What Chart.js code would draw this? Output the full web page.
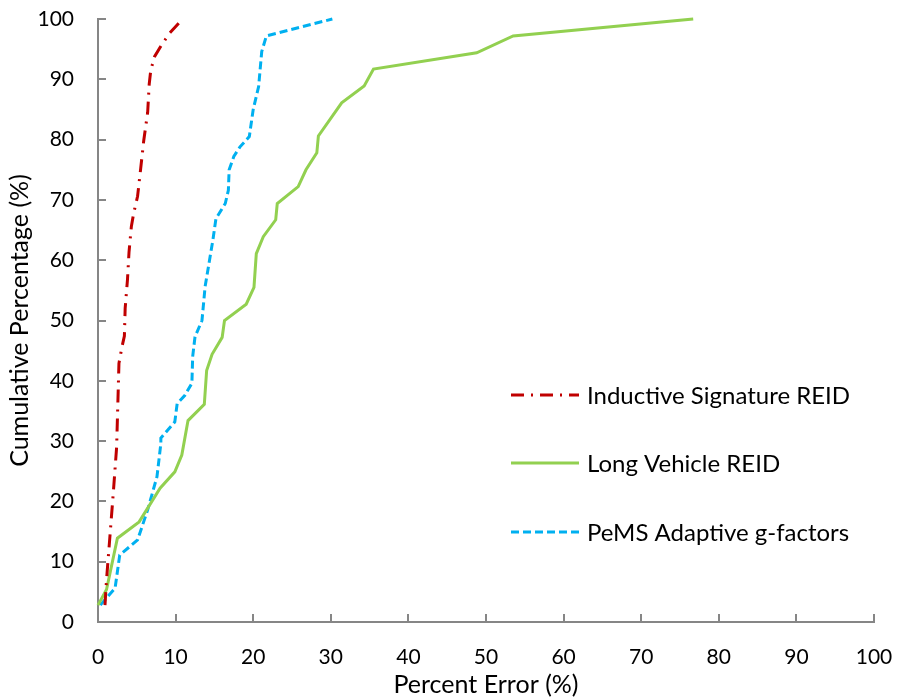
<!DOCTYPE html>
<html>
<head>
<meta charset="utf-8">
<script src="https://cdn.jsdelivr.net/npm/chart.js@4"></script>
<style>
  body { margin: 0; background: #fff; }
  #wrap { width: 897px; height: 700px; }
</style>
</head>
<body>
<div id="wrap"><canvas id="chartCdf" width="897" height="700"></canvas></div>
<script>
// values (x = percent error, y = cumulative %)
const sigX = [0.9, 1.1, 1.5, 2.0, 2.4, 2.6, 2.7, 3.1, 3.4, 3.5, 3.8, 4.0, 4.3, 4.6, 5.1, 5.5, 5.9, 6.4, 6.6, 6.8, 7.3, 8.2, 9.2, 10.9];
const sigY = [2.8, 7.0, 13.6, 21.9, 29.0, 38.2, 42.9, 45.7, 47.4, 52.0, 56.8, 61.4, 65.6, 67.8, 70.6, 75.2, 79.9, 84.5, 89.2, 91.5, 93.8, 95.7, 97.6, 100];

const longX = [0, 1.1, 2.5, 5.3, 8.0, 9.9, 10.8, 11.6, 13.7, 14.0, 14.7, 16.0, 16.3, 19.1, 20.1, 20.4, 21.3, 22.9, 23.1, 25.8, 26.8, 28.2, 28.4, 31.4, 34.3, 35.5, 48.8, 53.5, 76.7];
const longY = [2.8, 5.4, 13.9, 16.6, 22.2, 24.9, 27.7, 33.4, 36.1, 41.7, 44.4, 47.2, 50.0, 52.7, 55.5, 61.1, 63.9, 66.7, 69.4, 72.2, 75.0, 77.8, 80.6, 86.1, 88.9, 91.7, 94.4, 97.2, 100];

const pemsX = [0.3, 2.2, 2.8, 5.1, 6.4, 7.6, 8.1, 8.1, 9.9, 10.2, 11.2, 12.1, 12.2, 12.5, 13.4, 13.8, 14.8, 15.2, 16.4, 16.8, 16.9, 17.5, 18.3, 19.5, 20.0, 20.7, 21.1, 21.7, 30.2];
const pemsY = [2.8, 5.6, 11.1, 13.6, 18.6, 24.1, 29.6, 30.5, 33.2, 36.2, 37.6, 39.6, 44.0, 47.3, 50.0, 55.6, 63.3, 66.9, 69.4, 71.6, 75.0, 77.2, 78.8, 80.5, 85.0, 88.8, 94.6, 97.2, 100];

const seriesNames = ["Inductive Signature REID", "Long Vehicle REID", "PeMS Adaptive g-factors"];
const xTitle = "Percent Error (%)";
const yTitle = "Cumulative Percentage (%)";

const FONT = "Lato, 'Open Sans', sans-serif";
const AXIS_GREY = "#868686";

function toPoints(xs, ys) {
    return xs.map((x, i) => ({ x: x, y: ys[i] }));
}

// short tick marks pointing into the plot, like the office chart
const innerTicks = {
    id: "innerTicks",
    afterDraw(chart) {
        const ctx = chart.ctx;
        const xs = chart.scales.x, ys = chart.scales.y;
        const area = chart.chartArea;
        ctx.save();
        ctx.strokeStyle = AXIS_GREY;
        ctx.lineWidth = 2;
        ctx.beginPath();
        xs.ticks.forEach((t, i) => {
            if (i === 0) return;
            const px = Math.round(xs.getPixelForTick(i));
            ctx.moveTo(px, area.bottom);
            ctx.lineTo(px, area.bottom - 8);
        });
        ys.ticks.forEach((t, i) => {
            if (i === 0) return;
            const py = Math.round(ys.getPixelForTick(i));
            ctx.moveTo(area.left, py);
            ctx.lineTo(area.left + 8, py);
        });
        ctx.stroke();
        ctx.restore();
    }
};

// legend box inside the plot, right side
const sideLegend = {
    id: "sideLegend",
    afterDraw(chart) {
        const ctx = chart.ctx;
        const rows = [395, 463, 532];
        ctx.save();
        ctx.font = "24px " + FONT;
        ctx.textBaseline = "middle";
        ctx.fillStyle = "#000";
        chart.data.datasets.forEach((ds, i) => {
            ctx.beginPath();
            ctx.strokeStyle = ds.borderColor;
            ctx.lineWidth = ds.borderWidth;
            ctx.setLineDash(ds.borderDash || []);
            ctx.moveTo(511, rows[i]);
            ctx.lineTo(579, rows[i]);
            ctx.stroke();
            ctx.setLineDash([]);
            ctx.fillText(ds.label, 587, rows[i] + 1);
        });
        ctx.restore();
    }
};

const ctx = document.getElementById("chartCdf").getContext("2d");

new Chart(ctx, {
    type: "line",
    data: {
        datasets: [
            {
                label: seriesNames[0],
                data: toPoints(sigX, sigY),
                borderColor: "#C00000",
                borderWidth: 3,
                borderDash: [13, 7, 2, 7],
                pointRadius: 0,
                tension: 0,
                clip: false
            },
            {
                label: seriesNames[1],
                data: toPoints(longX, longY),
                borderColor: "#92D050",
                borderWidth: 3,
                pointRadius: 0,
                tension: 0,
                clip: false
            },
            {
                label: seriesNames[2],
                data: toPoints(pemsX, pemsY),
                borderColor: "#00B0F0",
                borderWidth: 3,
                borderDash: [8, 4],
                pointRadius: 0,
                tension: 0,
                clip: false
            }
        ]
    },
    options: {
        responsive: false,
        animation: false,
        devicePixelRatio: 1,
        layout: { padding: { top: 19, right: 23, left: 0, bottom: 0 } },
        plugins: {
            legend: { display: false },
            tooltip: { enabled: false }
        },
        scales: {
            x: {
                type: "linear",
                min: 0,
                max: 100,
                afterFit: (s) => { s.height = 78; s.paddingLeft = 0; s.paddingRight = 0; },
                ticks: { stepSize: 10, color: "#000", font: { family: FONT, size: 21 }, padding: 23, maxRotation: 0 },
                grid: { drawOnChartArea: false, drawTicks: false },
                border: { display: true, color: AXIS_GREY, width: 2 },
                title: { display: true, text: xTitle, color: "#000", font: { family: FONT, size: 25 }, padding: { top: 0, bottom: 0 } }
            },
            y: {
                type: "linear",
                min: 0,
                max: 100,
                afterFit: (s) => { s.width = 98; s.paddingTop = 0; s.paddingBottom = 0; },
                ticks: { stepSize: 10, color: "#000", font: { family: FONT, size: 21 }, padding: 24 },
                grid: { drawOnChartArea: false, drawTicks: false },
                border: { display: true, color: AXIS_GREY, width: 2 },
                title: { display: true, text: yTitle, color: "#000", font: { family: FONT, size: 25 }, padding: { top: 5, bottom: 0 } }
            }
        }
    },
    plugins: [innerTicks, sideLegend]
});
</script>
</body>
</html>
